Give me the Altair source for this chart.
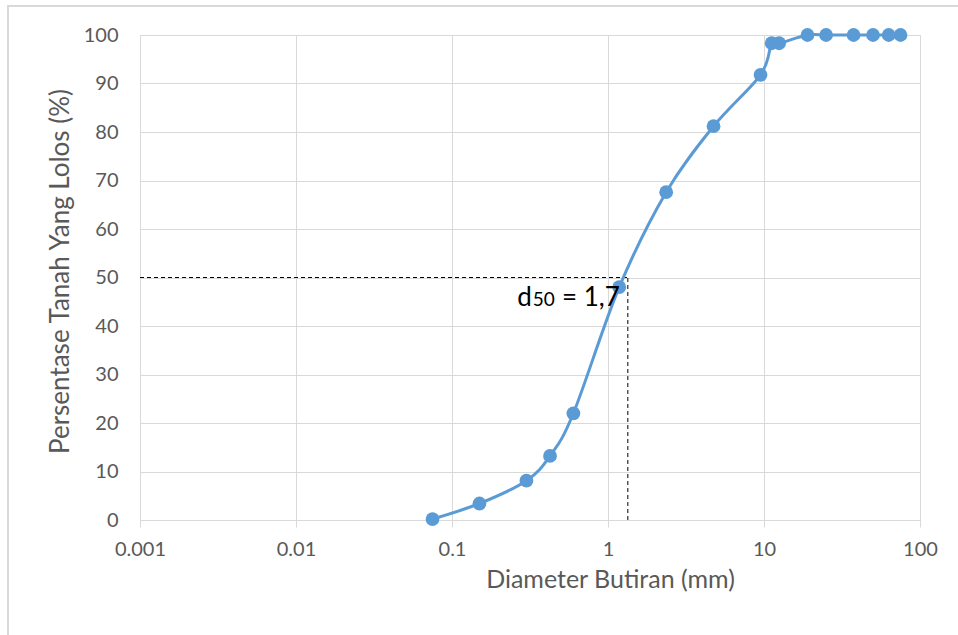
import altair as alt
import pandas as pd

# Sieve sizes (mm) and percent passing
diameter = [0.075, 0.15, 0.3, 0.425, 0.6, 1.18, 2.36, 4.75, 9.5, 11.2, 12.5, 19, 25, 37.5, 50, 63, 75]
passing = [0.2, 3.4, 8.1, 13.2, 22.0, 48.0, 67.6, 81.2, 91.8, 98.3, 98.3, 100, 100, 100, 100, 100, 100]

x_ticks = [0.001, 0.01, 0.1, 1, 10, 100]
y_ticks = [0, 10, 20, 30, 40, 50, 60, 70, 80, 90, 100]

d50_x = 1.34   # where the dashed guide meets the axis
d50_y = 50
x_min = 0.001

df = pd.DataFrame({"d": diameter, "p": passing})

FONT = "Lato"
GREY = "#595959"
GRID = "#d9d9d9"
BLUE = "#5b9bd5"

xscale = alt.Scale(type="log", domain=[0.001, 100])
yscale = alt.Scale(domain=[0, 100])

xaxis = alt.Axis(
    values=x_ticks, format="~g", title="Diameter Butiran (mm)",
    grid=True, gridColor=GRID, domainColor=GRID, tickColor=GRID, tickSize=7,
    labelFontSize=20, labelColor=GREY, labelFont=FONT, labelPadding=12, labelFlush=False,
    titleFontSize=25, titleColor=GREY, titleFont=FONT, titleFontWeight="normal",
    titleX=470, titleY=67, titleBaseline="alphabetic", titleAnchor="middle",
)
yaxis = alt.Axis(
    values=y_ticks, title="Persentase Tanah Yang Lolos (%)",
    grid=True, gridColor=GRID, domain=False, ticks=False, tickSize=0,
    labelFontSize=20, labelColor=GREY, labelFont=FONT, labelPadding=22,
    titleFontSize=26, titleColor=GREY, titleFont=FONT, titleFontWeight="normal",
    titleX=-80, titleY=236, titleBaseline="middle", titleAnchor="middle",
)

frame = alt.Chart(pd.DataFrame({"k": [0]})).mark_rect(
    fill=None, stroke=GRID, strokeWidth=2
).encode(
    x=alt.value(-132), x2=alt.value(900), y=alt.value(-29), y2=alt.value(700)
)

base = alt.Chart(df)

line = base.mark_line(color=BLUE, strokeWidth=3, interpolate="cardinal").encode(
    x=alt.X("d:Q", scale=xscale, axis=xaxis),
    y=alt.Y("p:Q", scale=yscale, axis=yaxis),
)
points = base.mark_circle(color=BLUE, size=190, opacity=1).encode(
    x=alt.X("d:Q", scale=xscale),
    y=alt.Y("p:Q", scale=yscale),
)

guide = pd.DataFrame({"x1": [x_min, d50_x], "x2": [d50_x, d50_x], "y1": [d50_y, 0], "y2": [d50_y, d50_y]})
rules = alt.Chart(guide).mark_rule(color="black", strokeWidth=1, strokeDash=[4, 3]).encode(
    x=alt.X("x1:Q", scale=xscale), x2="x2:Q",
    y=alt.Y("y1:Q", scale=yscale), y2="y2:Q",
)

lab = pd.DataFrame({"x": [d50_x], "y": [d50_y]})
def piece(txt, size, dx):
    return alt.Chart(lab).mark_text(
        text=txt, font=FONT, fontSize=size, color="black", align="right",
        baseline="alphabetic", dx=dx, dy=28
    ).encode(x=alt.X("x:Q", scale=xscale), y=alt.Y("y:Q", scale=yscale))

t1 = piece("= 1,7", 26, -8)
t2 = piece("50", 19, -73)
t3 = piece("d", 26, -96)

chart = alt.layer(frame, rules, line, points, t1, t2, t3).properties(
    width=780, height=485,
    autosize=alt.AutoSizeParams(type="none"),
    padding={"left": 140, "top": 35, "right": 38, "bottom": 115},
).configure_view(stroke=None).configure(background="white")

chart.save("out.html", embed_options={"renderer": "svg", "actions": False})
